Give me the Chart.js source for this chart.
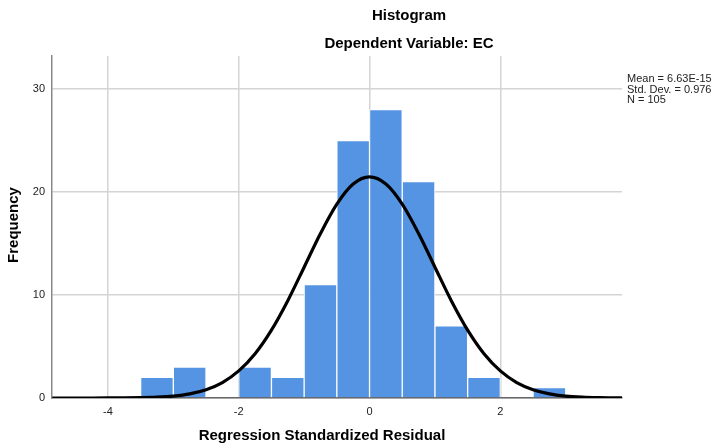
<!DOCTYPE html>
<html>
<head>
<meta charset="utf-8">
<script src="https://cdn.jsdelivr.net/npm/chart.js@4"></script>
<style>
  html, body { margin: 0; padding: 0; background: #fff; }
  #wrap { width: 713px; height: 444px; }
</style>
</head>
<body>
<div id="wrap"><canvas id="hist"></canvas></div>
<script>
// histogram bins (centre of each 0.5 wide bin) and counts
const binCentres = [-3.25, -2.75, -2.25, -1.75, -1.25, -0.75, -0.25, 0.25, 0.75, 1.25, 1.75, 2.25, 2.75];
const binCounts = [2, 3, 0, 3, 2, 11, 25, 28, 21, 7, 2, 0, 1];

// normal curve
const curveX = [-4.85, -4.5, -4.25, -4, -3.75, -3.5, -3.25, -3, -2.75, -2.5, -2.25, -2, -1.75, -1.5, -1.25, -1, -0.75, -0.5, -0.25,
  0, 0.25, 0.5, 0.75, 1, 1.25, 1.5, 1.75, 2, 2.25, 2.5, 2.75, 3, 3.25, 3.5, 3.86];
const curveY = [0, 0.001, 0.002, 0.005, 0.013, 0.035, 0.084, 0.19, 0.405, 0.81, 1.5, 2.63, 4.3, 6.59, 9.45, 12.7, 15.97, 18.82, 20.77,
  21.46, 20.77, 18.82, 15.97, 12.7, 9.45, 6.59, 4.3, 2.63, 1.5, 0.81, 0.405, 0.19, 0.084, 0.035, 0.01];

const xTicks = [-4, -2, 0, 2];
const statsLines = ["Mean = 6.63E-15", "Std. Dev. = 0.976", "N = 105"];

const FONT = "'Liberation Sans', Arial, sans-serif";

// titles and stats box
const textPlugin = {
  id: "texts",
  afterDraw(chart) {
    const ctx = chart.ctx;
    ctx.save();
    ctx.fillStyle = "#000";
    ctx.textBaseline = "middle";
    ctx.textAlign = "center";
    ctx.font = "bold 15px " + FONT;
    ctx.fillText("Histogram", 409, 16);
    ctx.fillText("Dependent Variable: EC", 409, 44);
    ctx.fillText("Regression Standardized Residual", 322, 436);

    ctx.save();
    ctx.translate(14, 225);
    ctx.rotate(-Math.PI / 2);
    ctx.fillText("Frequency", 0, 0);
    ctx.restore();

    ctx.textAlign = "left";
    ctx.font = "11px " + FONT;
    ctx.fillStyle = "#222";
    statsLines.forEach((s, i) => ctx.fillText(s, 627, 79 + i * 10.5));
    ctx.restore();
  }
};

new Chart(document.getElementById("hist"), {
  type: "bar",
  data: {
    datasets: [
      {
        type: "line",
        data: curveX.map((x, i) => ({ x: x, y: curveY[i] })),
        borderColor: "#000",
        borderWidth: 3.2,
        pointRadius: 0,
        cubicInterpolationMode: "monotone",
        fill: false,
        order: 0,
      },
      {
        type: "bar",
        data: binCentres.map((x, i) => ({ x: x, y: binCounts[i] })),
        backgroundColor: "#5594e3",
        borderColor: "#ffffff",
        borderWidth: 1,
        borderSkipped: "bottom",
        barPercentage: 1,
        categoryPercentage: 1,
        order: 1,
      },
    ],
  },
  options: {
    responsive: true,
    maintainAspectRatio: false,
    animation: false,
    layout: { padding: { left: 0, right: 91, top: 56, bottom: 0 } },
    plugins: {
      legend: { display: false },
      title: { display: false },
      tooltip: { enabled: false },
    },
    scales: {
      x: {
        type: "linear",
        min: -4.855,
        max: 3.86,
        offset: false,
        afterBuildTicks: (scale) => {
          scale.ticks = xTicks.map((v) => ({ value: v }));
        },
        afterFit: (scale) => { scale.height = 46; },
        grid: { color: "#d4d4d4", lineWidth: 1.5, drawTicks: false, offset: false },
        border: { color: "#666", width: 1.5 },
        ticks: { padding: 7, color: "#222", font: { family: FONT, size: 11 } },
      },
      y: {
        min: 0,
        max: 33.2,
        afterBuildTicks: (scale) => {
          scale.ticks = [0, 10, 20, 30].map((v) => ({ value: v }));
        },
        afterFit: (scale) => { scale.width = 52; },
        grid: { color: "#d4d4d4", lineWidth: 1.5, drawTicks: false },
        border: { color: "#888", width: 1.5 },
        ticks: { padding: 7, color: "#222", font: { family: FONT, size: 11 } },
      },
    },
  },
  plugins: [textPlugin],
});
</script>
</body>
</html>
